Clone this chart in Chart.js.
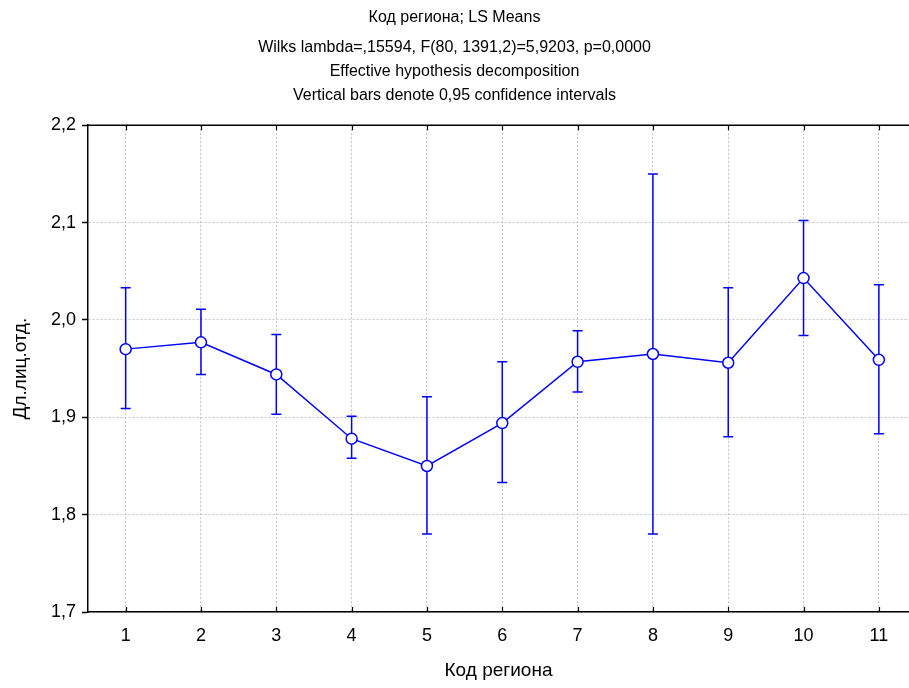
<!DOCTYPE html>
<html>
<head>
<meta charset="utf-8">
<script src="https://cdn.jsdelivr.net/npm/chart.js@4.4.1/dist/chart.umd.min.js"></script>
<style>
html,body{margin:0;padding:0;background:#fff;overflow:hidden;width:909px;height:688px;}
canvas{display:block;}
</style>
</head>
<body>
<canvas id="c" width="909" height="688" style="width:909px;height:688px"></canvas>
<script>
const categories = [1, 2, 3, 4, 5, 6, 7, 8, 9, 10, 11];
const means = [1.970, 1.977, 1.944, 1.878, 1.850, 1.894, 1.957, 1.965, 1.956, 2.043, 1.959];
const upper = [2.033, 2.011, 1.985, 1.901, 1.921, 1.957, 1.989, 2.150, 2.033, 2.102, 2.036];
const lower = [1.909, 1.944, 1.903, 1.858, 1.780, 1.833, 1.926, 1.780, 1.880, 1.984, 1.883];
const yTicks = [1.7, 1.8, 1.9, 2.0, 2.1, 2.2];
const xRange = [0.5, 11.4];
const titleLine = 'Код региона; LS Means';
const subtitleLines = [
  'Wilks lambda=,15594, F(80, 1391,2)=5,9203, p=0,0000',
  'Effective hypothesis decomposition',
  'Vertical bars denote 0,95 confidence intervals'];
const xTitle = 'Код региона';
const yTitle = 'Дл.лиц.отд.';

const FONT = "'Liberation Sans', Arial, sans-serif";
const BLUE = '#0000ff';

const errorBars = {
  id: 'errorBars',
  beforeDatasetsDraw(chart) {
    const ctx = chart.ctx, x = chart.scales.x, y = chart.scales.y;
    ctx.save();
    ctx.strokeStyle = BLUE;
    ctx.lineWidth = 1.5;
    for (let i = 0; i < categories.length; i++) {
      const px = x.getPixelForValue(categories[i]);
      const pu = y.getPixelForValue(upper[i]);
      const pl = y.getPixelForValue(lower[i]);
      ctx.beginPath();
      ctx.moveTo(px, pu); ctx.lineTo(px, pl);
      ctx.moveTo(px - 5, pu); ctx.lineTo(px + 5, pu);
      ctx.moveTo(px - 5, pl); ctx.lineTo(px + 5, pl);
      ctx.stroke();
    }
    ctx.restore();
  }
};

const frame = {
  id: 'frame',
  afterDraw(chart) {
    const ctx = chart.ctx, a = chart.chartArea, x = chart.scales.x;
    ctx.save();
    ctx.strokeStyle = '#000';
    ctx.lineWidth = 1.5;
    ctx.beginPath();
    ctx.moveTo(a.left, a.top); ctx.lineTo(a.right, a.top);
    ctx.stroke();
    ctx.lineWidth = 1.2;
    ctx.beginPath();
    for (let i = 0; i < categories.length; i++) {
      const px = Math.round(x.getPixelForValue(categories[i])) + 0.5;
      ctx.moveTo(px, a.bottom); ctx.lineTo(px, a.bottom - 5);
      ctx.moveTo(px, a.top); ctx.lineTo(px, a.top + 5);
    }
    ctx.stroke();
    ctx.restore();
  }
};

new Chart(document.getElementById('c'), {
  type: 'line',
  data: {
    datasets: [{
      data: categories.map((c, i) => ({ x: c, y: means[i] })),
      borderColor: BLUE,
      borderWidth: 1.5,
      backgroundColor: '#fff',
      pointBackgroundColor: '#fff',
      pointBorderColor: BLUE,
      pointBorderWidth: 1.5,
      pointRadius: 5.5,
      tension: 0,
      fill: false
    }]
  },
  options: {
    responsive: false,
    maintainAspectRatio: false,
    animation: false,
    devicePixelRatio: 1,
    layout: { padding: 0, autoPadding: false },
    plugins: {
      legend: { display: false },
      tooltip: { enabled: false },
      title: {
        display: true,
        text: titleLine,
        color: '#000',
        font: { family: FONT, size: 16, weight: 'normal', lineHeight: 1.2 },
        padding: { top: 8, bottom: 4 }
      },
      subtitle: {
        display: true,
        text: subtitleLines,
        color: '#000',
        font: { family: FONT, size: 16, weight: 'normal', lineHeight: 1.5 },
        padding: { top: 4, bottom: 18 }
      }
    },
    scales: {
      x: {
        type: 'linear',
        min: xRange[0], max: xRange[1],
        afterBuildTicks(s) { s.ticks = categories.map(v => ({ value: v })); },
        grid: { color: '#c4c4c4', lineWidth: 1, drawTicks: false },
        border: { color: '#000', width: 1.5, dash: [2, 2] },
        ticks: { color: '#000', font: { family: FONT, size: 18 }, padding: 13, maxRotation: 0, autoSkip: false,
          callback: v => String(v) },
        title: { display: true, text: xTitle, color: '#000', font: { family: FONT, size: 19 }, padding: { top: 0, bottom: 6 } },
        afterFit(s) { s.height = 76; s.paddingLeft = 0; s.paddingRight = 0; }
      },
      y: {
        min: 1.7, max: 2.2,
        grid: { color: '#c4c4c4', lineWidth: 1, tickColor: '#000', tickLength: 6, tickWidth: 1.5 },
        border: { color: '#000', width: 1.5, dash: [2, 2] },
        afterBuildTicks(s) { s.ticks = yTicks.map(v => ({ value: v })); },
        ticks: { color: '#000', font: { family: FONT, size: 18 }, padding: 6,
          callback: v => Number(v).toFixed(1).replace('.', ',') },
        title: { display: true, text: yTitle, color: '#000', font: { family: FONT, size: 19 }, padding: { top: 9, bottom: 0 } },
        afterFit(s) { s.width = 88; }
      }
    }
  },
  plugins: [errorBars, frame]
});
</script>
</body>
</html>
